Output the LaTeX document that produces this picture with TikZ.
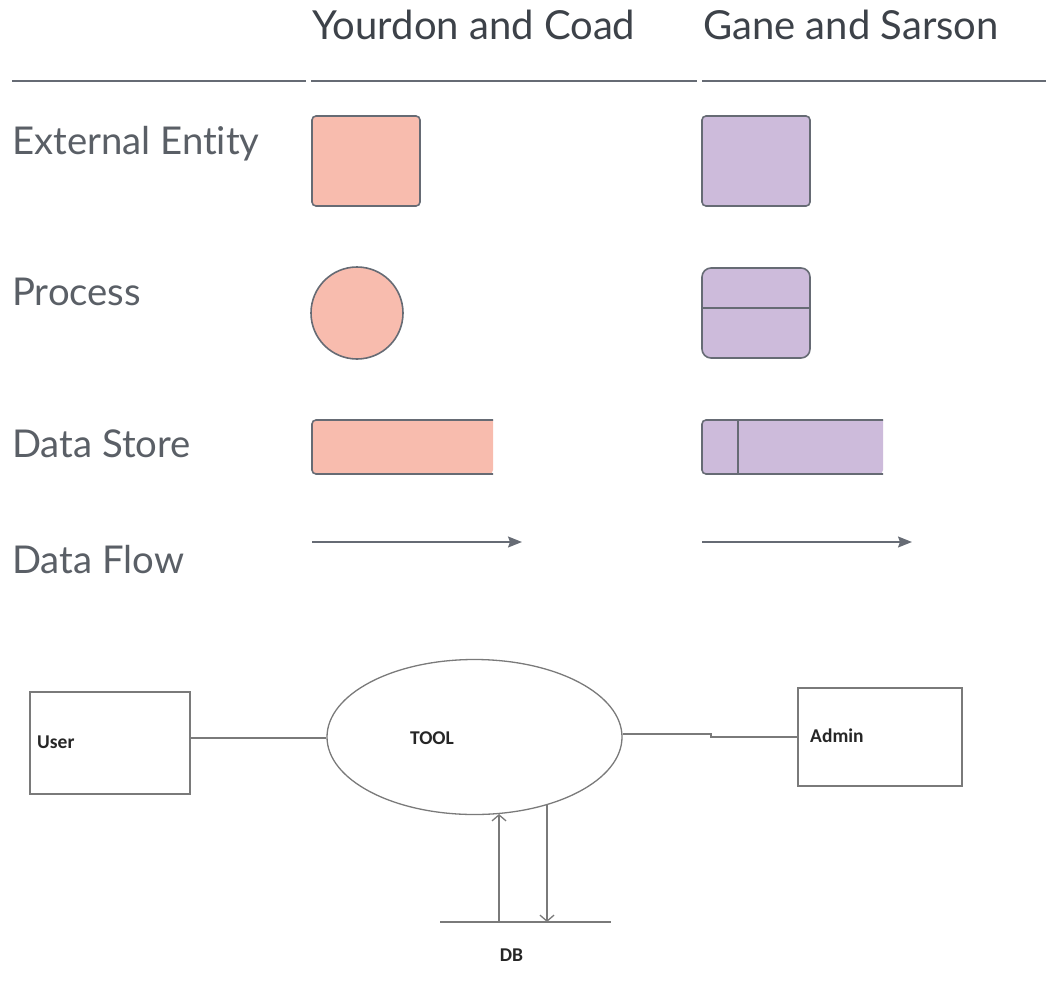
\documentclass[tikz,border=0pt]{standalone}
\usepackage{fontspec}
\setmainfont{Lato}[Ligatures={NoCommon,NoRare}]
\newfontfamily\calfont{Carlito}
\usetikzlibrary{shapes.geometric,arrows.meta,calc}
\definecolor{salmon}{HTML}{F8BCAE}
\definecolor{lilac}{HTML}{CDBBDB}
\definecolor{edgegray}{HTML}{666B74}
\definecolor{headtext}{HTML}{3D4249}
\definecolor{labtext}{HTML}{5A5F66}
\definecolor{sketch}{HTML}{7A7A7A}
\tikzset{
  headfont/.style={font=\fontsize{40}{44}\selectfont, text=headtext, inner sep=0pt},
  rowfont/.style={font=\fontsize{38.3}{42}\selectfont, text=labtext, inner sep=0pt},
  symbox/.style={draw=edgegray, line width=1.6pt, rounded corners=4pt},
  flowarrow/.style={draw=edgegray, line width=1.6pt, -{Stealth[length=14pt,width=11pt,inset=2pt]}},
  sketchline/.style={draw=sketch, line width=1.3pt},
  sketchbox/.style={draw=sketch, line width=1.6pt, fill=white, inner sep=0pt},
  sketchlabel/.style={font=\calfont\bfseries\fontsize{19.5}{22}\selectfont, text=black!85, inner sep=0pt},
  openarrow/.style={sketchline, -{Straight Barb[length=6pt,width=14pt]}},
}
\begin{document}
\begin{tikzpicture}[x=1pt,y=-1pt]
\useasboundingbox (0,0) rectangle (1046,990);
% headers
\node[headfont, anchor=base west] (hy) at (312,40) {Yourdon and Coad};
\node[headfont, anchor=base west] (hg) at (703,40) {Gane and Sarson};
\coordinate (l1a) at (12,81); \coordinate (l1b) at (306,81);
\coordinate (l2a) at (311,81); \coordinate (l2b) at (697,81);
\coordinate (l3a) at (702,81); \coordinate (l3b) at (1046,81);
\draw[edgegray, line width=2pt] (l1a) -- (l1b);
\draw[edgegray, line width=2pt] (l2a) -- (l2b);
\draw[edgegray, line width=2pt] (l3a) -- (l3b);
% row labels
\node[rowfont, anchor=base west] (rEE) at (12,154) {External Entity};
\node[rowfont, anchor=base west] (rP) at (12,305) {Process};
\node[rowfont, anchor=base west] (rDS) at (12,457) {Data Store};
\node[rowfont, anchor=base west] (rDF) at (12,573) {Data Flow};
% external entity
\node[symbox, fill=salmon, minimum width=108pt, minimum height=90pt, inner sep=0pt] (yee) at (366,161) {};
\node[symbox, fill=lilac, minimum width=108pt, minimum height=90pt, inner sep=0pt] (gee) at (756,161) {};
% process
\node[draw=edgegray, line width=1.6pt, fill=salmon, circle, minimum size=92pt, inner sep=0pt] (yp) at (357,313) {};
\node[symbox, rounded corners=9pt, fill=lilac, minimum width=108pt, minimum height=90pt, inner sep=0pt] (gp) at (756,313) {};
\draw[edgegray, line width=1.6pt] (gp.west |- 0,308) -- (gp.east |- 0,308);
% data store Yourdon
\fill[salmon, rounded corners=4pt] (493,420) -- (312,420) -- (312,474) -- (493,474) [sharp corners] -- cycle;
\draw[edgegray, line width=1.6pt, rounded corners=4pt] (493,420) -- (312,420) -- (312,474) -- (493,474);
% data store Gane
\fill[lilac, rounded corners=4pt] (883,420) -- (702,420) -- (702,474) -- (883,474) [sharp corners] -- cycle;
\draw[edgegray, line width=1.6pt, rounded corners=4pt] (883,420) -- (702,420) -- (702,474) -- (883,474);
\draw[edgegray, line width=1.6pt] (738,420) -- (738,474);
% data flows
\coordinate (yfa) at (312,542); \coordinate (yfb) at (522,542);
\coordinate (gfa) at (702,542); \coordinate (gfb) at (912,542);
\draw[flowarrow] (yfa) -- (yfb);
\draw[flowarrow] (gfa) -- (gfb);
% lower sketch
\node[sketchbox, minimum width=160pt, minimum height=102pt] (user) at (110,743) {};
\node[sketchlabel, anchor=west] (userl) at (37,742) {User};
\node[sketchbox, minimum width=164pt, minimum height=98pt] (admin) at (880,737) {};
\node[sketchlabel, anchor=west] (adminl) at (810,736) {Admin};
\node[draw=sketch, line width=1.3pt, ellipse, minimum width=295pt, minimum height=155pt, inner sep=0pt] (tool) at (474.5,737) {};
\node[sketchlabel] (tooll) at (432,738) {TOOL};
\draw[sketchline] (user.east |- 0,738) -- (tool.west |- 0,738);
\coordinate (kink) at (711,737);
\draw[sketchline] (tool.east |- 0,734) -- (kink |- 0,734) -- (kink) -- (admin.west |- kink);
% DB
\coordinate (dba) at (440,922); \coordinate (dbb) at (611,922);
\draw[sketchline] (dba) -- (dbb);
\node[sketchlabel] (dbl) at (511.5,955) {DB};
\coordinate (upf) at (499,922);
\coordinate (dnf) at (547,922);
\draw[openarrow] (upf) -- (upf |- tool.288);
\draw[openarrow] (dnf |- tool.317) -- (dnf);
\end{tikzpicture}
\end{document}
